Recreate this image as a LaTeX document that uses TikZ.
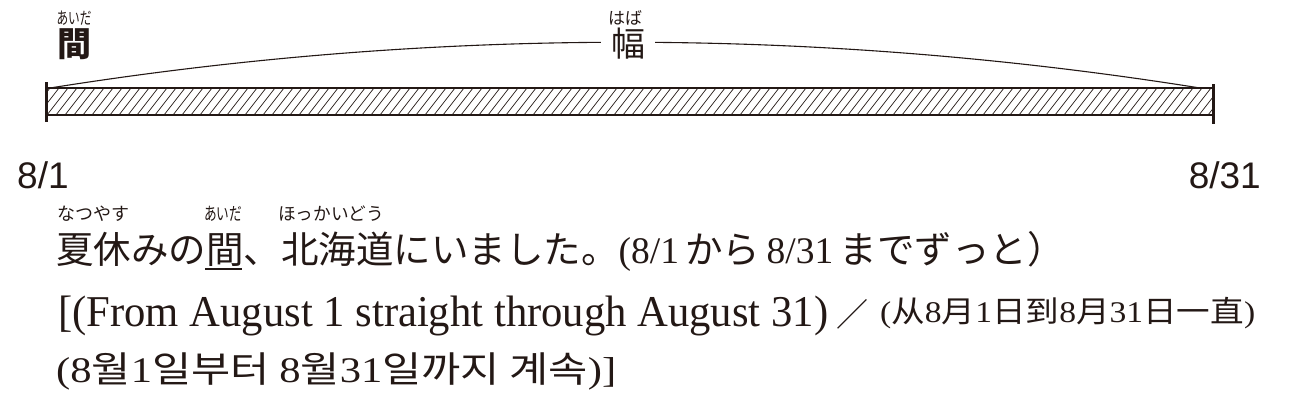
\documentclass[tikz,border=0pt]{standalone}
\usepackage{fontspec}
\usepackage{graphicx}
\setmainfont{Liberation Serif}
\newfontfamily\jpfont{Noto Sans CJK JP}
\newfontfamily\scfont{Noto Sans CJK SC}
\newfontfamily\krfont{Noto Sans CJK KR}
\newfontfamily\ssfont{Liberation Sans}
\definecolor{ink}{RGB}{35,24,21}
\newcommand\fitw[2]{\resizebox{#1}{\height}{#2}}
\newcommand\rmd[1]{{\rmfamily #1}}
\tikzset{
  lbl/.style={inner sep=0pt, text=ink},
  ruby/.style={lbl, font=\jpfont\fontsize{18}{18}\selectfont},
  toprub/.style={lbl, anchor=south, font=\jpfont\fontsize{17}{17}\selectfont},
  big/.style={lbl, font=\jpfont\fontsize{34}{34}\selectfont},
  date/.style={lbl, font=\ssfont\fontsize{37}{37}\selectfont},
  barline/.style={draw=ink, line width=1.4pt},
  tick/.style={draw=ink, line width=3pt},
  hatch/.style={draw=ink, line width=0.7pt},
  arcline/.style={draw=ink, line width=1.1pt}
}
\begin{document}
\begin{tikzpicture}[x=1pt,y=-1pt]
\useasboundingbox (0,0) rectangle (1308,404);
% bar
\begin{scope}
\clip (47,88) rectangle (1213,115);
\foreach \x in {20,29,...,1230} {
  \draw[hatch] (\x,115) -- (\x+21,88);
}
\end{scope}
\coordinate (tl) at (47,88);
\coordinate (tr) at (1213,88);
\coordinate (bl) at (47,115);
\coordinate (br) at (1213,115);
\draw[barline] (tl) -- (tr);
\draw[barline] (bl) -- (br);
\coordinate (lt) at (46,82);
\coordinate (lb) at (46,122);
\coordinate (rt) at (1213,84);
\coordinate (rb) at (1213,124);
\draw[tick] (lt) -- (lb);
\draw[tick] (rt) -- (rb);
% arc
\coordinate (as) at (50,88);
\coordinate (ae) at (1200,88);
\draw[arcline] (as) .. controls (433,27) and (817,27) .. (ae);
% labels
\node[big, font=\jpfont\bfseries\fontsize{34}{34}\selectfont] (aida) at (74,44) {間};
\node[toprub] (aidar) at (74,26) {\fitw{35pt}{あいだ}};
\node[big, fill=white, inner xsep=10pt] (haba) at (628,44) {幅};
\node[toprub] (habar) at (625,26) {はば};
\node[date, anchor=base west] (d1) at (17,188) {8/1};
\node[date, anchor=base east] (d31) at (1261,188) {8/31};
% line 1
\node[lbl, anchor=base west, font=\jpfont\fontsize{37.5}{37.5}\selectfont] (l1) at (56,263)
  {夏休みの間、北海道にいました。\rmd{(8/1}\,から\,\rmd{8/31}\,までずっと）};
\node[ruby] (r1) at (93,214) {\fitw{72pt}{なつやす}};
\node[ruby] (r2) at (223,214) {\fitw{38pt}{あいだ}};
\node[ruby] (r3) at (331,214) {\fitw{106pt}{ほっかいどう}};
\coordinate (u1) at (205,269);
\coordinate (u2) at (242,269);
\draw[ink, line width=1.2pt] (u1) -- (u2);
% line 2
\node[lbl, anchor=base west, font=\fontsize{44}{44}\selectfont] (l2a) at (58,326)
  {\fitw{770pt}{[(From August 1 straight through August 31)}};
\node[lbl, anchor=base west, font=\jpfont\fontsize{32}{32}\selectfont] (l2b) at (836,326) {／};
\node[lbl, anchor=base west, font=\scfont\fontsize{30}{30}\selectfont] (l2c) at (880,322)
  {\fitw{375pt}{\rmd{(}从\rmd{8}月\rmd{1}日到\rmd{8}月\rmd{31}日一直\rmd{)}}};
% line 3
\node[lbl, anchor=base west, font=\krfont\fontsize{36}{36}\selectfont] (l3) at (56,382)
  {\fitw{560pt}{\rmd{(8}월\rmd{1}일부터 \rmd{8}월\rmd{31}일까지 계속\rmd{)]}}};
\end{tikzpicture}
\end{document}
